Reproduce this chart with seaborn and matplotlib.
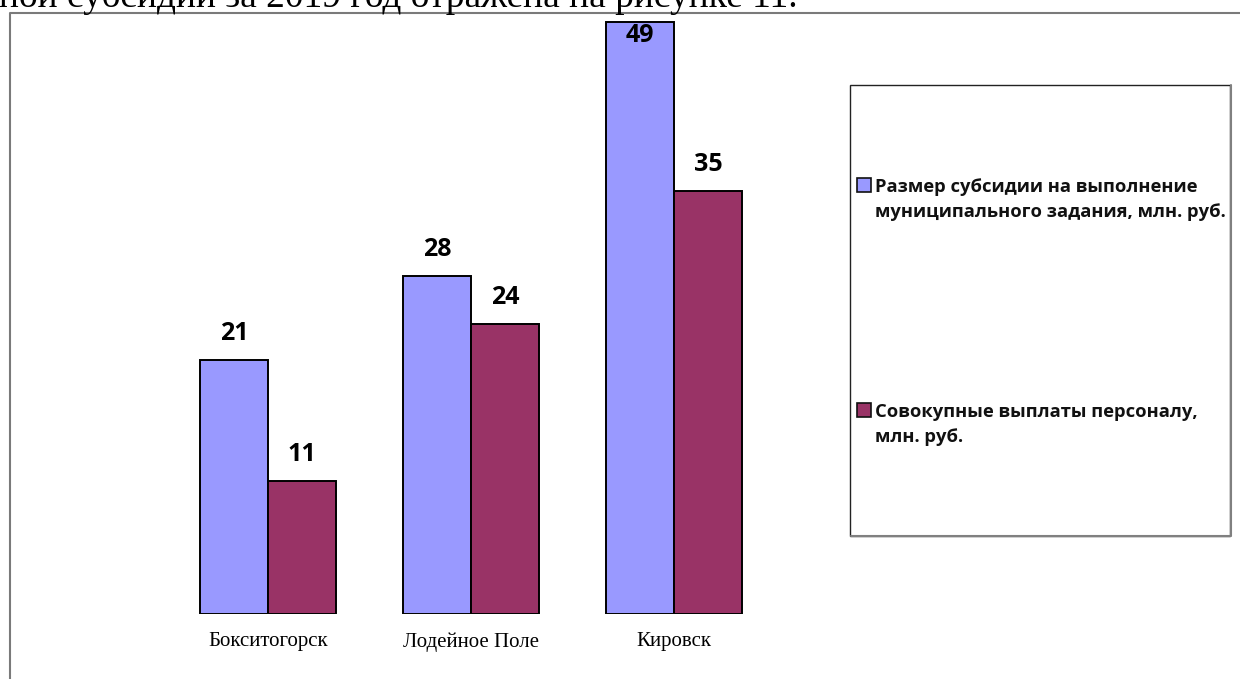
import matplotlib
matplotlib.use("Agg")
import matplotlib.pyplot as plt
from matplotlib.patches import Rectangle
from matplotlib.lines import Line2D
import seaborn as sns
import pandas as pd

# Data
cities = ["Бокситогорск", "Лодейное Поле", "Кировск"]
subsidy = [21, 28, 49]
payroll = [11, 24, 35]
series_names = [
    "Размер субсидии на выполнение\nмуниципального задания, млн. руб.",
    "Совокупные выплаты персоналу,\nмлн. руб.",
]
series_colors = ["#9999FF", "#993366"]
caption = "ной субсидии за 2019 год отражена на рисунке 11."

W, H = 1240, 679
sns.set_theme(style="white")
plt.rcParams["font.family"] = ["Open Sans", "DejaVu Sans"]

df = pd.DataFrame({
    "city": cities * 2,
    "value": subsidy + payroll,
    "series": [series_names[0]] * len(cities) + [series_names[1]] * len(cities),
})

fig = plt.figure(figsize=(W / 100, H / 100), dpi=100)
fig.patch.set_facecolor("white")


def fx(px):
    return px / W


def fy(py):
    return 1 - py / H


ax = fig.add_axes([fx(30), fy(614), fx(830) - fx(30), fy(12) - fy(614)])
sns.barplot(
    data=df, x="city", y="value", hue="series",
    order=cities, hue_order=series_names, palette=series_colors,
    saturation=1, width=0.67, edgecolor="black", linewidth=1.4,
    errorbar=None, legend=False, ax=ax,
)
ax.set_xlim(-1.1724, 2.7685)
ax.set_ylim(0, 49.83)
ax.set_facecolor("none")
for s in ax.spines.values():
    s.set_visible(False)
ax.set_yticks([])
ax.set_xlabel("")
ax.set_ylabel("")
ax.tick_params(axis="x", length=0, pad=13)
for lbl in ax.get_xticklabels():
    lbl.set_family("Liberation Serif")
    lbl.set_fontsize(15)
    lbl.set_color("black")

# Value labels; the tallest bar carries its label inside the top edge
top = ax.get_ylim()[1]
for cont in ax.containers:
    for bar in cont:
        v = bar.get_height()
        xc = bar.get_x() + bar.get_width() / 2
        inside = v > top - 3
        ax.annotate(
            f"{v:.0f}", (xc, v),
            xytext=(0, -14.4 if inside else 14.4), textcoords="offset points",
            ha="center", va="baseline", fontsize=18, fontweight="bold",
            color="black", annotation_clip=False,
        )

# Legend box
fig.add_artist(Rectangle((fx(850), fy(536)), fx(1230) - fx(850), fy(85) - fy(536),
                         transform=fig.transFigure, facecolor="white",
                         edgecolor="#222222", linewidth=1.0, zorder=2))
fig.add_artist(Line2D([fx(851), fx(1230.5), fx(1230.5)], [fy(536), fy(536), fy(85)],
                      transform=fig.transFigure, color="#808080", linewidth=1.5, zorder=3))
first_baselines = [192, 417]
for name, color, base in zip(series_names, series_colors, first_baselines):
    fig.add_artist(Rectangle((fx(857), fy(base)), fx(14), 14 / H,
                             transform=fig.transFigure, facecolor=color,
                             edgecolor="#111111", linewidth=1.2, zorder=4))
    for j, line in enumerate(name.split("\n")):
        fig.text(fx(875), fy(base + 25 * j), line, ha="left", va="baseline",
                 fontsize=13.2, fontweight="bold", color="#111111", zorder=4)

# Chart area frame (left and top edges)
fig.add_artist(Line2D([fx(10), fx(10), fx(1240)], [fy(679), fy(12.5), fy(12.5)],
                      transform=fig.transFigure, color="#7a7a7a", linewidth=1.5))

# Preceding text line
fig.text(fx(-1), fy(7), caption, ha="left", va="baseline",
         family="Liberation Serif", fontsize=27, color="black")

fig.savefig("out.png", dpi=100, facecolor="white")
